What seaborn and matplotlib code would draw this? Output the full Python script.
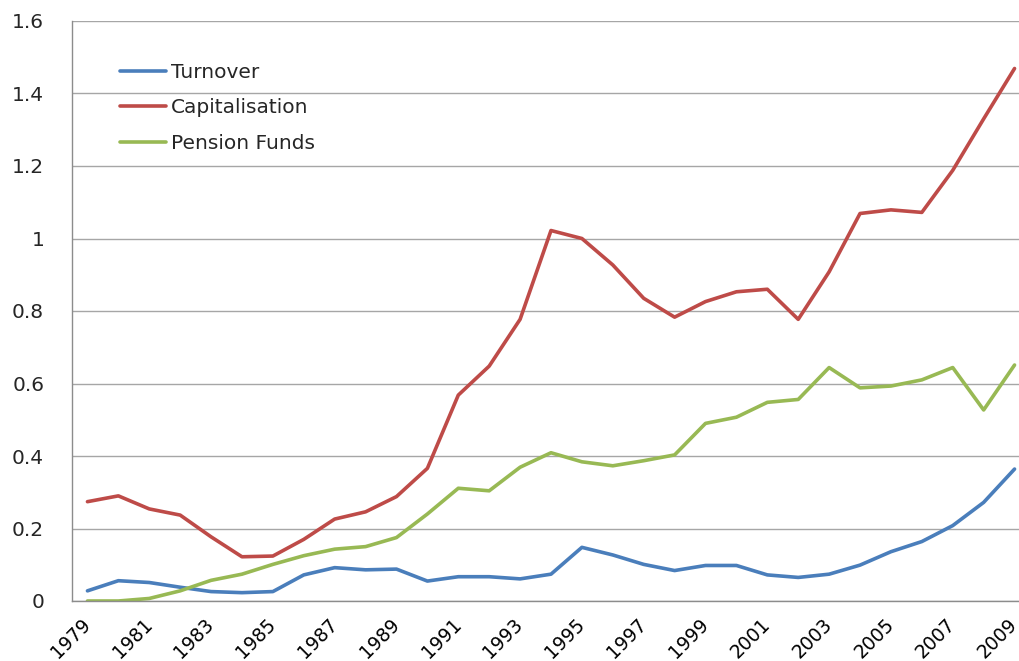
import numpy as np
import pandas as pd
import matplotlib
matplotlib.use("Agg")
import matplotlib.pyplot as plt
import seaborn as sns

years = list(range(1979, 2010))

turnover = [0.028, 0.056, 0.051, 0.038, 0.026, 0.023, 0.026, 0.072, 0.092, 0.086,
            0.088, 0.055, 0.067, 0.067, 0.061, 0.074, 0.148, 0.127, 0.101, 0.084,
            0.098, 0.098, 0.072, 0.065, 0.074, 0.099, 0.136, 0.164, 0.208, 0.272,
            0.364]

capitalisation = [0.274, 0.290, 0.254, 0.237, 0.177, 0.122, 0.124, 0.170, 0.226, 0.246,
                  0.288, 0.366, 0.568, 0.648, 0.777, 1.022, 1.000, 0.927, 0.835, 0.783,
                  0.826, 0.853, 0.860, 0.777, 0.908, 1.069, 1.079, 1.072, 1.188, 1.330,
                  1.469]

pension_funds = [0.000, 0.000, 0.007, 0.028, 0.057, 0.074, 0.101, 0.125, 0.143, 0.150,
                 0.175, 0.240, 0.311, 0.304, 0.369, 0.409, 0.384, 0.373, 0.387, 0.403,
                 0.490, 0.507, 0.548, 0.556, 0.644, 0.588, 0.593, 0.610, 0.644, 0.527,
                 0.651]

series_names = ["Turnover", "Capitalisation", "Pension Funds"]
series_colors = ["#4A7EBB", "#BE4B48", "#98B954"]

frames = []
for name, vals in zip(series_names, [turnover, capitalisation, pension_funds]):
    frames.append(pd.DataFrame({"pos": np.arange(len(years)), "value": vals, "series": name}))
df = pd.concat(frames, ignore_index=True)

sns.set_theme(style="white")
plt.rcParams["font.family"] = ["DejaVu Sans"]

FS = 14.5
LW = 2.6

fig = plt.figure(figsize=(10.19, 6.61), dpi=100)
ax = fig.add_axes([72 / 1019, 60 / 661, (1030 - 72) / 1019, 580 / 661])

sns.lineplot(data=df, x="pos", y="value", hue="series", hue_order=series_names,
             palette=series_colors, linewidth=LW, ax=ax, legend=False)

ax.set_xlim(-0.5, len(years) - 0.5)
ax.set_ylim(0, 1.6)
ax.set_yticks(np.arange(0, 1.61, 0.2))
ax.set_yticklabels(["0", "0.2", "0.4", "0.6", "0.8", "1", "1.2", "1.4", "1.6"])
ax.yaxis.grid(True, color="#A6A6A6", linewidth=1.0)
ax.xaxis.grid(False)
ax.set_axisbelow(True)

# category labels on every other year, tick marks between categories
label_pos = np.arange(0, len(years), 2)
ax.set_xticks(label_pos)
ax.set_xticklabels([str(years[i]) for i in label_pos], rotation=45, ha="right",
                   va="center", rotation_mode="anchor")
ax.set_xticks(np.arange(-0.5, len(years), 1.0), minor=True)
ax.tick_params(axis="x", which="major", length=0, pad=15, labelsize=13.5, colors="#000000")
ax.tick_params(axis="x", which="minor", length=6, width=1, color="#8C8C8C", direction="out")
ax.tick_params(axis="y", length=9, width=1, color="#8C8C8C", direction="out",
               pad=11, labelsize=FS)
ax.set_xlabel("")
ax.set_ylabel("")

for side in ["top", "right"]:
    ax.spines[side].set_visible(False)
for side in ["left", "bottom"]:
    ax.spines[side].set_color("#8C8C8C")
    ax.spines[side].set_linewidth(1)

handles = [plt.Line2D([], [], color=c, linewidth=LW) for c in series_colors]
ax.legend(handles, series_names, loc="upper left", bbox_to_anchor=(0.050, 0.927),
          frameon=False, fontsize=FS, handlelength=2.3, handletextpad=0.25,
          labelspacing=0.80, borderaxespad=0, borderpad=0)

fig.savefig("out.png", dpi=100)
